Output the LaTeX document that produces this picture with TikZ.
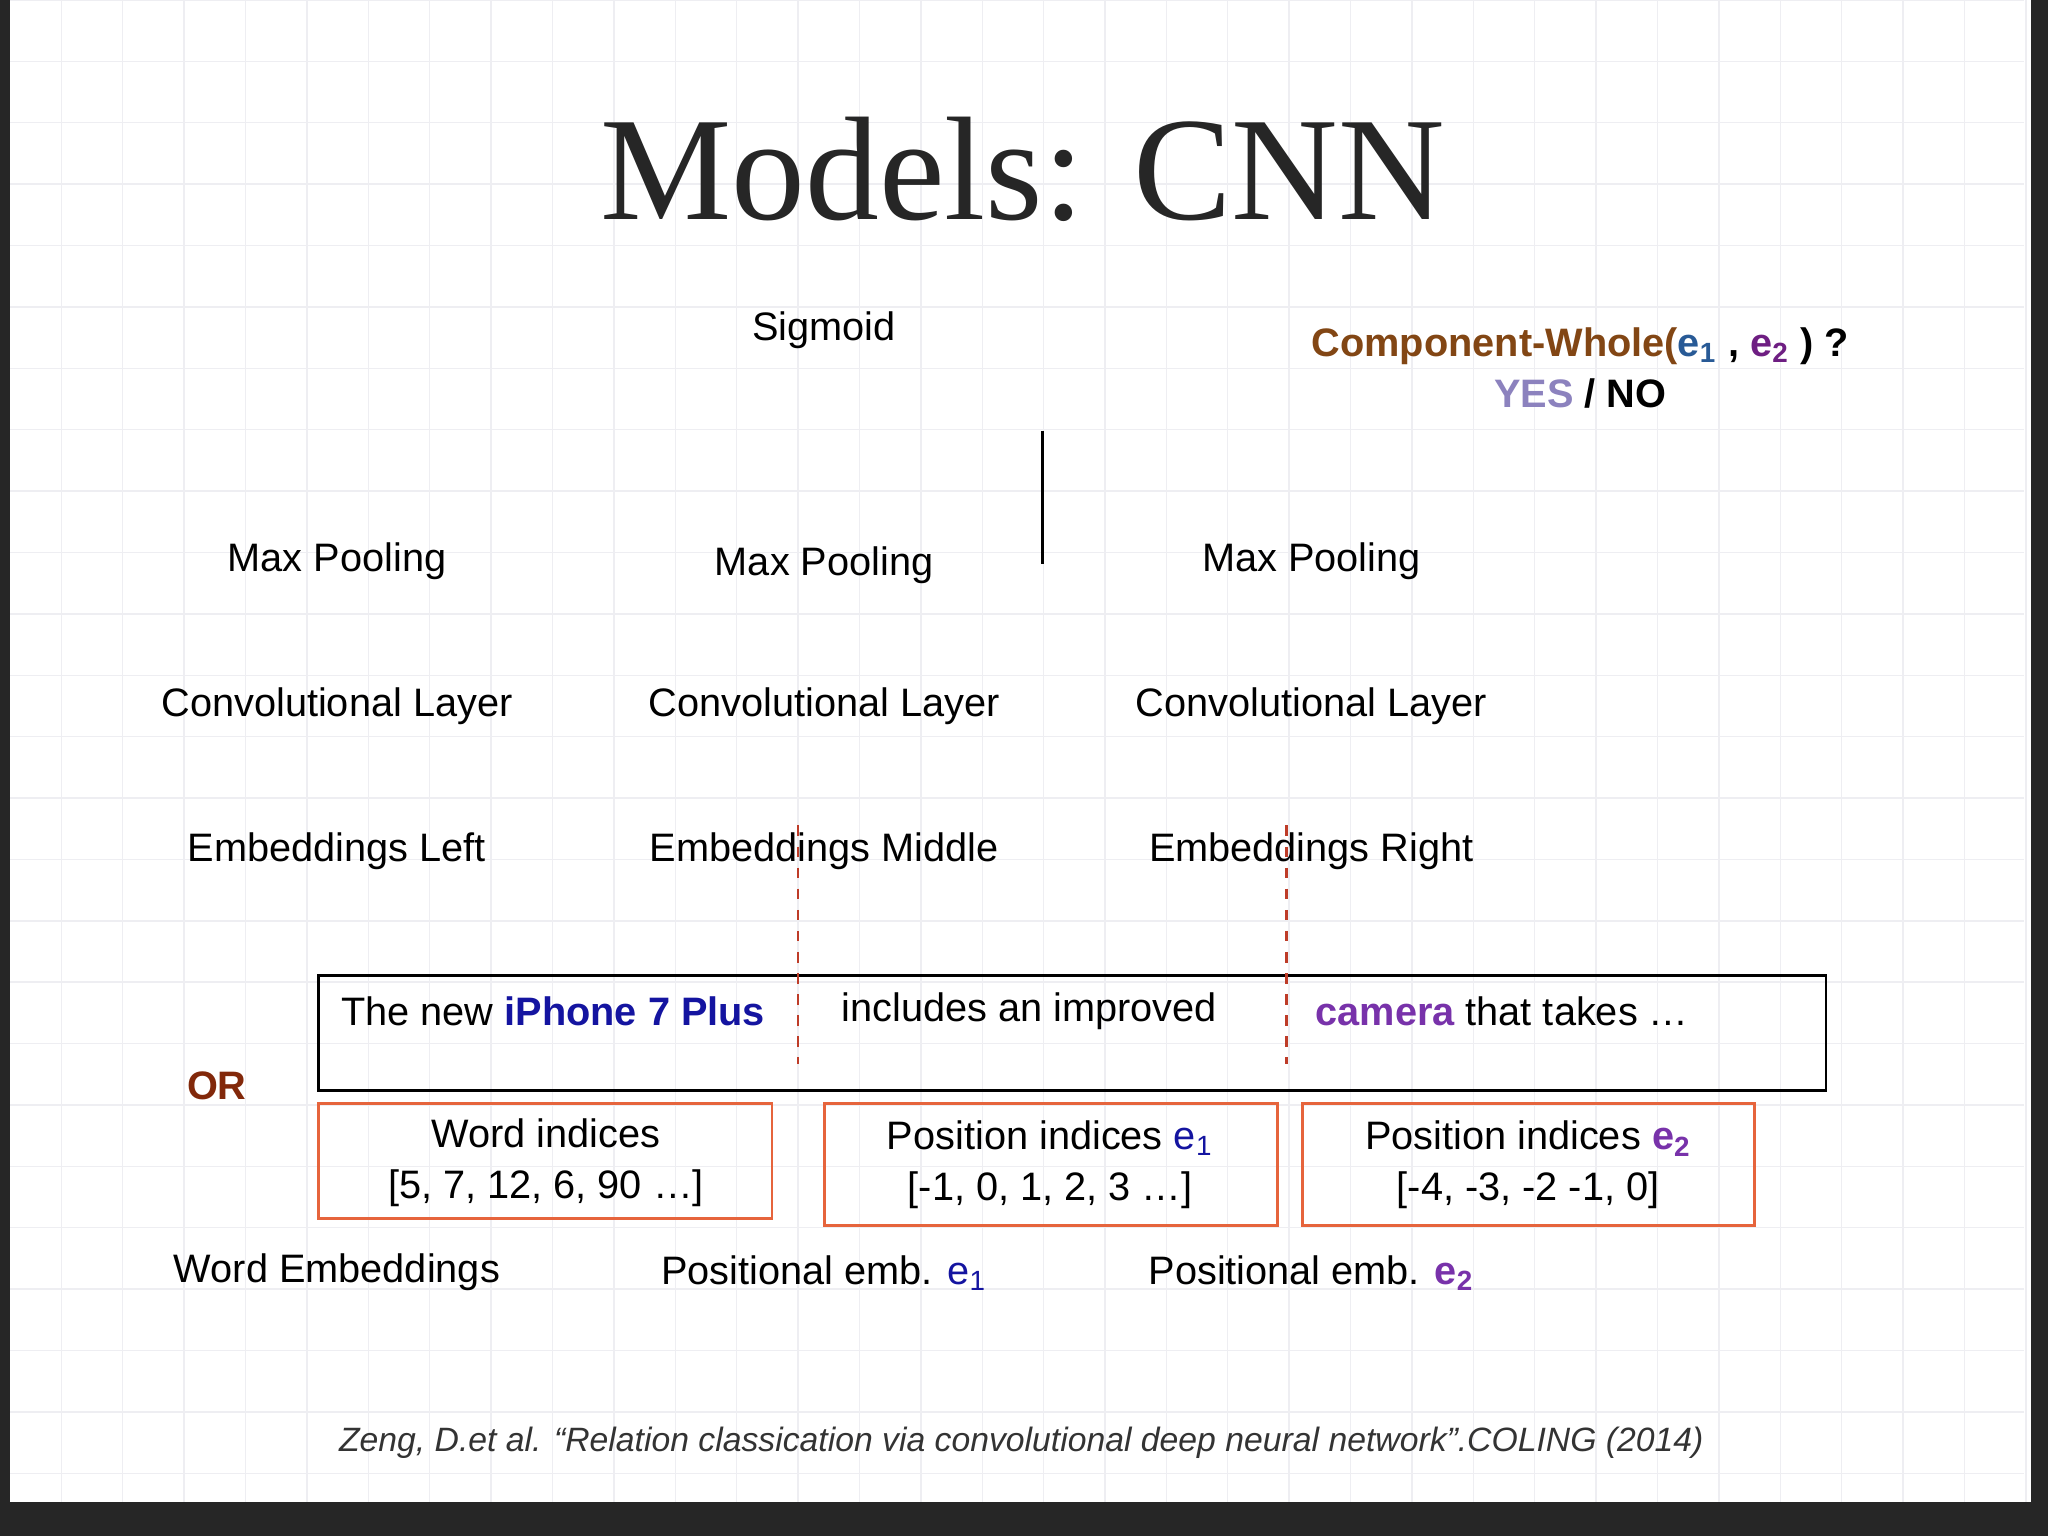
\documentclass[tikz,border=0pt]{standalone}
\usepackage{fontspec}
\setmainfont{Liberation Sans}
\newfontfamily\titlefont{Liberation Serif}
\definecolor{brn}{RGB}{130,70,20}
\definecolor{eblue}{RGB}{40,90,150}
\definecolor{epurp}{RGB}{110,30,130}
\definecolor{yescol}{RGB}{140,130,190}
\definecolor{dblue}{RGB}{20,20,160}
\definecolor{cpurp}{RGB}{120,50,170}
\definecolor{orred}{RGB}{130,40,10}
\definecolor{boxor}{RGB}{230,100,60}
\definecolor{dashr}{RGB}{190,60,40}
\definecolor{gridc}{RGB}{238,238,242}
\tikzset{lbl/.style={font=\fontsize{11.3}{13.5}\selectfont, inner sep=1pt},
  bl/.style={font=\bfseries\fontsize{11.3}{13.5}\selectfont, inner sep=1pt},
  obox/.style={draw=boxor, line width=0.8pt},
  dsh/.style={draw=dashr, dashed, line width=0.6pt}}
\begin{document}
\begin{tikzpicture}[x=0.013061cm,y=-0.013061cm]
\useasboundingbox (0,0) rectangle (1568,1176);
\fill[white] (0,0) rectangle (1568,1176);
\foreach \i in {0,...,33}{\draw[gridc,line width=0.4pt] (\i*47,0) -- (\i*47,1150);}
\foreach \j in {0,...,25}{\draw[gridc,line width=0.4pt] (0,\j*47) -- (1550,\j*47);}
\fill[black!85] (0,1150) rectangle (1568,1176);
\fill[black!85] (1555,0) rectangle (1568,1176);
\fill[black!85] (0,0) rectangle (8,1176);
\node[font=\titlefont\fontsize{42}{42}\selectfont, text=black!85] (title) at (783,130) {Models: CNN};
\node[lbl] (sig) at (631,253) {Sigmoid};
\node[bl] (cw) at (1210,265) {\textcolor{brn}{Component-Whole(}\textcolor{eblue}{e\textsubscript{1}} , \textcolor{epurp}{e\textsubscript{2}} ) ?};
\node[bl] (yn) at (1210,301) {\textcolor{yescol}{YES} / NO};
\coordinate (vt) at (798,330); \coordinate (vb) at (798,432);
\draw[line width=0.7pt] (vt) -- (vb);
\node[lbl] (mp1) at (258,430) {Max Pooling};
\node[lbl] (mp2) at (631,433) {Max Pooling};
\node[lbl] (mp3) at (1004,430) {Max Pooling};
\node[lbl] (cl1) at (258,541) {Convolutional Layer};
\node[lbl] (cl2) at (631,541) {Convolutional Layer};
\node[lbl] (cl3) at (1004,541) {Convolutional Layer};
\node[lbl] (el) at (258,652) {Embeddings Left};
\node[lbl] (em) at (631,652) {Embeddings Middle};
\node[lbl] (er) at (1004,652) {Embeddings Right};
\draw[line width=0.8pt] (244,747) rectangle (1398,835);
\node[lbl, anchor=west] (s1) at (258,774) {The new \textbf{\textcolor{dblue}{iPhone 7 Plus}}};
\node[lbl, anchor=west] (s2) at (641,774) {includes an improved};
\node[lbl, anchor=west] (s3) at (1004,774) {\textbf{\textcolor{cpurp}{camera}} that takes \dots};
\coordinate (d1t) at (611,632); \coordinate (d1b) at (611,815);
\coordinate (d2t) at (985,632); \coordinate (d2b) at (985,815);
\draw[dsh] (d1t) -- (d1b); \draw[dsh] (d2t) -- (d2b);
\node[bl, text=orred] (or) at (166,831) {OR};
\draw[obox] (244,845) rectangle (591,933);
\draw[obox] (631,845) rectangle (978,938);
\draw[obox] (997,845) rectangle (1343,938);
\node[lbl, align=center] (wi) at (418,890) {Word indices\\[1pt][5, 7, 12, 6, 90 \dots]};
\node[lbl, align=center] (p1) at (804,892) {Position indices \textcolor{dblue}{e\textsubscript{1}}\\[1pt][-1, 0, 1, 2, 3 \dots]};
\node[lbl, align=center] (p2) at (1170,892) {Position indices \textbf{\textcolor{cpurp}{e\textsubscript{2}}}\\[1pt][-4, -3, -2 -1, 0]};
\node[lbl] (we) at (258,974) {Word Embeddings};
\node[lbl] (pe1) at (631,975) {Positional emb. \textcolor{dblue}{e\textsubscript{1}}};
\node[lbl] (pe2) at (1004,975) {Positional emb. \textbf{\textcolor{cpurp}{e\textsubscript{2}}}};
\node[lbl, font=\itshape\fontsize{9.6}{11}\selectfont, text=black!80] (cite) at (782,1105) {Zeng, D.et al. “Relation classication via convolutional deep neural network”.COLING (2014)};
\end{tikzpicture}
\end{document}
